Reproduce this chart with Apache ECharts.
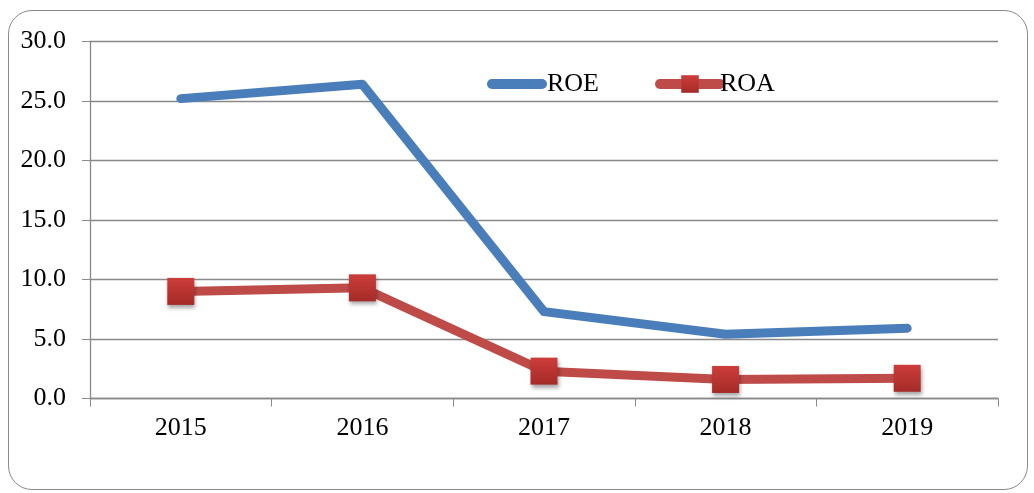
<!DOCTYPE html>
<html><head><meta charset="utf-8">
<script src="https://cdn.jsdelivr.net/npm/echarts@6/dist/echarts.min.js"></script>
<style>html,body{margin:0;padding:0;background:#fff}
#frame{position:absolute;left:8px;top:10px;width:1020px;height:480px;border:1.5px solid #8a8a8a;border-radius:24px;box-sizing:border-box}
#c{position:absolute;left:0;top:0;width:1034px;height:493px}</style>
</head><body>
<div id="frame"></div>
<div id="c"></div>
<script>
const categories = ['2015','2016','2017','2018','2019'];
const roe = [25.2, 26.4, 7.3, 5.4, 5.9];
const roa = [9.0, 9.3, 2.3, 1.6, 1.7];
const yTicks = {min: 0, max: 30, interval: 5};

const chart = echarts.init(document.getElementById('c'), null, {renderer:'canvas'});
const font = '"Liberation Serif", "Times New Roman", serif';
chart.setOption({
  animation: false,
  grid: {left: 90, right: 36, top: 41.5, bottom: 94.5, containLabel: false},
  legend: {
    top: 66, left: 482, itemGap: 56, itemWidth: 60, itemHeight: 22,
    lineStyle: {width: 10, cap: 'round'},
    textStyle: {fontFamily: font, fontSize: 26, color: '#000', padding: [8,0,0,-5]},
    data: [
      {name:'ROE', icon: 'path://M5,0 L55,0 A5,5 0 0 1 55,10 L5,10 A5,5 0 0 1 5,0 Z', itemStyle: {color: '#4A7EBB'}},
      {name:'ROA'}
    ]
  },
  xAxis: {
    type: 'category', data: categories, boundaryGap: true,
    axisLine: {show: true, lineStyle: {color: '#898989', width: 1.3}},
    axisTick: {show: true, length: 8, lineStyle: {color: '#898989'}},
    axisLabel: {fontFamily: font, fontSize: 26, color: '#000', margin: 17}
  },
  yAxis: {
    type: 'value', min: yTicks.min, max: yTicks.max, interval: yTicks.interval,
    axisLine: {show: true, lineStyle: {color: '#898989', width: 1.3}},
    axisTick: {show: true, length: 8, inside: false, lineStyle: {color: '#898989'}},
    splitLine: {show: true, lineStyle: {color: '#898989', width: 1.3}},
    axisLabel: {fontFamily: font, fontSize: 26, color: '#000', margin: 24,
      formatter: v => v.toFixed(1)}
  },
  series: [
    {name: 'ROE', type: 'line', data: roe, symbol: 'none',
     lineStyle: {color: '#4A7EBB', width: 9, cap: 'round', join: 'round'},
     itemStyle: {color: '#4A7EBB'}},
    {name: 'ROA', type: 'line', data: roa, symbol: 'rect', symbolSize: 27,
     lineStyle: {color: '#BE4B48', width: 9, cap: 'round', join: 'round'},
     itemStyle: {
       color: new echarts.graphic.LinearGradient(0,0,0,1,[{offset:0,color:'#CD3D3A'},{offset:1,color:'#A42B28'}]),
       shadowColor: 'rgba(0,0,0,0.35)', shadowBlur: 4, shadowOffsetX: 1, shadowOffsetY: 3
     }}
  ]
});
</script>
</body></html>
